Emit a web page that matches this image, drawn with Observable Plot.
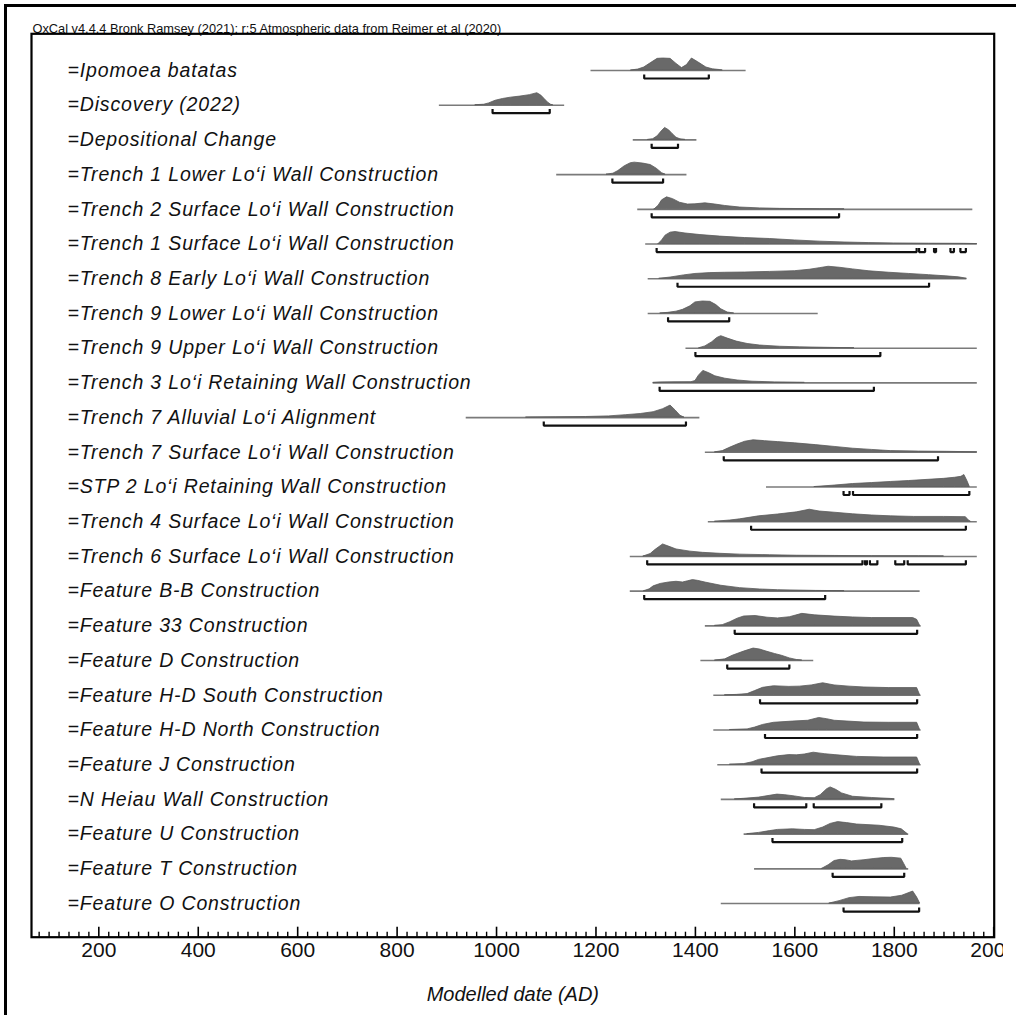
<!DOCTYPE html>
<html>
<head>
<meta charset="utf-8">
<script src="https://cdn.jsdelivr.net/npm/d3@7"></script>
<script src="https://cdn.jsdelivr.net/npm/@observablehq/plot@0.6"></script>
<style>
  html, body { margin: 0; padding: 0; background: white; overflow: hidden; }
  #wrap { position: relative; width: 1016px; height: 1015px; }
  #outer { position: absolute; left: 4px; top: 4px; width: 2000px; height: 2000px;
           border-left: 3px solid black; border-top: 3px solid black; }
  #chart { position: absolute; left: 0; top: 0; }
</style>
</head>
<body>
<div id="wrap"><div id="outer"></div><div id="chart"></div></div>
<script>
const title = "OxCal v4.4.4 Bronk Ramsey (2021); r:5 Atmospheric data from Reimer et al (2020)";
const xLabel = "Modelled date (AD)";

const labels = [
  "=Ipomoea batatas",
  "=Discovery (2022)",
  "=Depositional Change",
  "=Trench 1 Lower Lo‘i Wall Construction",
  "=Trench 2 Surface Lo‘i Wall Construction",
  "=Trench 1 Surface Lo‘i Wall Construction",
  "=Trench 8 Early Lo‘i Wall Construction",
  "=Trench 9 Lower Lo‘i Wall Construction",
  "=Trench 9 Upper Lo‘i Wall Construction",
  "=Trench 3 Lo‘i Retaining Wall Construction",
  "=Trench 7 Alluvial Lo‘i Alignment",
  "=Trench 7 Surface Lo‘i Wall Construction",
  "=STP 2 Lo‘i Retaining Wall Construction",
  "=Trench 4 Surface Lo‘i Wall Construction",
  "=Trench 6 Surface Lo‘i Wall Construction",
  "=Feature B-B Construction",
  "=Feature 33 Construction",
  "=Feature D Construction",
  "=Feature H-D South Construction",
  "=Feature H-D North Construction",
  "=Feature J Construction",
  "=N Heiau Wall Construction",
  "=Feature U Construction",
  "=Feature T Construction",
  "=Feature O Construction"
];

// full extent of each (unmodelled) distribution line, AD
const lineRanges = [
  [1190,1502],[885,1137],[1275,1403],[1121,1383],[1284,1958],
  [1300,1967],[1305,1946],[1305,1647],[1381,1967],[1315,1967],
  [939,1409],[1420,1967],[1543,1967],[1426,1967],[1269,1967],
  [1269,1852],[1420,1854],[1411,1638],[1437,1854],[1437,1854],
  [1445,1854],[1452,1801],[1498,1829],[1519,1829],[1452,1852]
];

// modelled (posterior) densities, relative to each row's peak: [year, density]
const densities = [
  [[1271,0],[1285,0.08],[1297,0.25],[1310,0.6],[1324,0.97],[1335,1],[1350,0.97],[1362,0.55],[1373,0.2],[1383,0.45],[1393,1],[1405,0.7],[1422,0.25],[1435,0.1],[1449,0.04],[1455,0]],
  [[958,0],[975,0.04],[985,0.15],[998,0.37],[1013,0.52],[1029,0.63],[1048,0.72],[1067,0.84],[1082,1],[1090,0.8],[1097,0.5],[1104,0.2],[1110,0.03],[1114,0]],
  [[1305,0],[1315,0.06],[1324,0.3],[1332,0.7],[1339,1],[1347,0.8],[1354,0.5],[1362,0.18],[1370,0.05],[1380,0]],
  [[1222,0],[1235,0.08],[1245,0.3],[1258,0.7],[1270,0.95],[1278,1],[1295,0.92],[1310,0.8],[1322,0.5],[1333,0.12],[1340,0]],
  [[1318,0],[1326,0.3],[1333,0.75],[1343,1],[1355,0.85],[1369,0.55],[1385,0.4],[1400,0.42],[1420,0.5],[1440,0.4],[1460,0.28],[1490,0.15],[1530,0.08],[1570,0.04],[1650,0.01],[1700,0]],
  [[1326,0],[1333,0.3],[1340,0.7],[1350,0.95],[1360,1],[1380,0.88],[1410,0.75],[1450,0.62],[1500,0.5],[1550,0.42],[1600,0.3],[1650,0.2],[1700,0.13],[1750,0.08],[1800,0.05],[1870,0.03],[1940,0.02],[1967,0]],
  [[1328,0],[1350,0.1],[1377,0.28],[1400,0.4],[1430,0.47],[1460,0.5],[1500,0.52],[1550,0.57],[1600,0.63],[1630,0.75],[1650,0.88],[1668,1],[1690,0.92],[1717,0.78],[1750,0.62],[1790,0.5],[1830,0.4],[1870,0.3],[1905,0.2],[1930,0.12],[1946,0]],
  [[1330,0],[1345,0.05],[1362,0.15],[1375,0.3],[1390,0.6],[1400,0.92],[1415,1],[1430,0.97],[1442,0.7],[1452,0.35],[1465,0.08],[1478,0]],
  [[1408,0],[1420,0.15],[1434,0.5],[1444,0.85],[1452,1],[1465,0.8],[1483,0.55],[1505,0.35],[1530,0.22],[1570,0.12],[1610,0.07],[1680,0.02],[1720,0]],
  [[1316,0],[1330,0.04],[1360,0.05],[1392,0.06],[1400,0.15],[1407,0.6],[1416,1],[1428,0.8],[1440,0.55],[1460,0.35],[1485,0.2],[1515,0.1],[1560,0.04],[1620,0]],
  [[1060,0],[1120,0.02],[1180,0.05],[1226,0.1],[1260,0.2],[1290,0.3],[1316,0.45],[1335,0.7],[1350,1],[1360,0.6],[1370,0.15],[1378,0]],
  [[1440,0],[1455,0.1],[1468,0.35],[1485,0.65],[1500,0.88],[1517,1],[1540,0.93],[1566,0.85],[1600,0.75],[1642,0.6],[1680,0.45],[1717,0.3],[1755,0.2],[1793,0.1],[1850,0.06],[1907,0.04],[1967,0]],
  [[1640,0],[1680,0.12],[1717,0.25],[1755,0.33],[1793,0.42],[1830,0.5],[1869,0.6],[1900,0.68],[1922,0.77],[1935,0.85],[1941,1],[1947,0.5],[1952,0]],
  [[1440,0],[1470,0.1],[1490,0.2],[1528,0.45],[1566,0.6],[1604,0.78],[1630,1],[1650,0.85],[1680,0.75],[1717,0.62],[1755,0.52],[1793,0.45],[1840,0.4],[1900,0.4],[1944,0.38],[1950,0.1],[1954,0]],
  [[1296,0],[1310,0.2],[1320,0.55],[1335,1],[1348,0.8],[1362,0.58],[1390,0.4],[1415,0.3],[1450,0.22],[1490,0.15],[1550,0.1],[1604,0.06],[1680,0.04],[1755,0.02],[1850,0.01],[1900,0]],
  [[1297,0],[1308,0.15],[1316,0.4],[1330,0.6],[1347,0.72],[1362,0.78],[1375,0.72],[1385,0.82],[1395,0.92],[1405,0.86],[1422,0.7],[1452,0.45],[1490,0.25],[1530,0.14],[1566,0.08],[1642,0.02],[1700,0]],
  [[1440,0],[1455,0.06],[1470,0.3],[1485,0.6],[1498,0.78],[1521,0.82],[1545,0.68],[1566,0.62],[1590,0.72],[1615,1],[1640,0.88],[1680,0.77],[1717,0.7],[1755,0.65],[1838,0.65],[1846,0.5],[1852,0]],
  [[1440,0],[1460,0.1],[1475,0.4],[1498,0.75],[1517,1],[1530,0.92],[1543,0.75],[1560,0.55],[1574,0.4],[1590,0.18],[1604,0.05],[1615,0]],
  [[1460,0],[1483,0.03],[1505,0.1],[1520,0.35],[1536,0.62],[1558,0.75],[1589,0.7],[1610,0.72],[1634,0.82],[1657,1],[1680,0.82],[1710,0.72],[1740,0.65],[1790,0.6],[1846,0.6],[1852,0]],
  [[1470,0],[1505,0.05],[1520,0.2],[1536,0.42],[1558,0.6],[1596,0.7],[1627,0.77],[1649,1],[1665,0.9],[1680,0.77],[1740,0.62],[1790,0.6],[1846,0.6],[1852,0]],
  [[1470,0],[1498,0.05],[1515,0.2],[1528,0.4],[1566,0.7],[1589,0.8],[1604,0.78],[1620,0.85],[1638,1],[1660,0.88],[1680,0.8],[1725,0.65],[1780,0.6],[1846,0.6],[1852,0]],
  [[1480,0],[1498,0.05],[1528,0.15],[1550,0.3],[1565,0.4],[1581,0.35],[1600,0.25],[1620,0.12],[1640,0.1],[1652,0.35],[1665,0.85],[1672,1],[1683,0.8],[1695,0.5],[1717,0.22],[1755,0.12],[1793,0.04],[1801,0]],
  [[1505,0],[1528,0.1],[1550,0.25],[1566,0.35],[1596,0.4],[1620,0.35],[1640,0.33],[1657,0.55],[1672,0.85],[1687,1],[1705,0.92],[1725,0.8],[1770,0.7],[1800,0.55],[1815,0.4],[1827,0]],
  [[1655,0],[1668,0.3],[1680,0.65],[1692,0.75],[1702,0.72],[1715,0.62],[1740,0.72],[1760,0.82],[1780,0.9],[1795,0.92],[1814,0.85],[1820,0.4],[1825,0]],
  [[1670,0],[1690,0.2],[1710,0.45],[1730,0.55],[1760,0.52],[1793,0.5],[1816,0.65],[1838,1],[1846,0.5],[1852,0]]
];

// 95.4% highest posterior density ranges (AD)
const ranges = [
  [[1297,1427]],
  [[992,1107]],
  [[1312,1365]],
  [[1233,1335]],
  [[1312,1689]],
  [[1322,1845],[1850,1862],[1880,1884],[1913,1920],[1933,1944]],
  [[1364,1870]],
  [[1345,1468]],
  [[1400,1772]],
  [[1328,1759]],
  [[1095,1381]],
  [[1457,1888]],
  [[1698,1710],[1717,1951]],
  [[1512,1944]],
  [[1303,1736],[1741,1745],[1751,1766],[1802,1820],[1827,1944]],
  [[1297,1661]],
  [[1479,1846]],
  [[1464,1589]],
  [[1530,1846]],
  [[1540,1846]],
  [[1533,1846]],
  [[1518,1623],[1638,1774]],
  [[1555,1816]],
  [[1676,1820]],
  [[1698,1850]]
];

const majorTicks = d3.range(200, 2001, 200);
const minorTicks = d3.range(80, 2001, 20).filter(v => v % 200 !== 0);

// ---- layout (pixels) ----
const W = 1003, H = 1015;
const frameL = 31, frameR = 993.7, frameT = 33.3, frameB = 936.7;
const rowTop = 70, rowStep = 34.71;
const peakPx = 12, bracketPx = 8, capPx = 3;
const yDomainTop = (frameT - rowTop) / rowStep;
const yDomainBottom = (frameB - rowTop) / rowStep;
const hU = peakPx / rowStep, bU = bracketPx / rowStep, cU = capPx / rowStep;

const areaData = densities.flatMap((pts, row) => pts.map(([year, d]) => ({row, year, d})));
const lineData = lineRanges.map(([lo, hi], row) => ({row, lo, hi}));
let segId = 0;
const bracketData = ranges.flatMap((segs, row) => segs.flatMap(([lo, hi]) => {
  const id = segId++;
  return [
    {id, x: lo, y: row + bU - cU},
    {id, x: lo, y: row + bU},
    {id, x: hi, y: row + bU},
    {id, x: hi, y: row + bU - cU}
  ];
}));

const font = "'Liberation Sans', Arial, Helvetica, sans-serif";

const chart = Plot.plot({
  width: W,
  height: H,
  marginLeft: frameL,
  marginRight: W - frameR,
  marginTop: frameT,
  marginBottom: H - frameB,
  style: {background: "none", overflow: "hidden", fontFamily: font},
  x: {domain: [64.6, 2001], label: null},
  y: {domain: [yDomainBottom, yDomainTop], axis: null},
  marks: [
    Plot.ruleY(lineData, {y: "row", x1: "lo", x2: "hi", stroke: "#7a7a7a", strokeWidth: 1.6}),
    Plot.areaY(areaData, {x: "year", y1: "row", y2: d => d.row - d.d * hU, z: "row",
      fill: "#696969", stroke: "#5a5a5a", strokeWidth: 0.8, curve: "linear"}),
    Plot.line(bracketData, {x: "x", y: "y", z: "id", stroke: "#111", strokeWidth: 2.2,
      strokeLinejoin: "miter", strokeLinecap: "square"}),
    Plot.text(labels, {y: (d, i) => i, text: d => d, frameAnchor: "left", dx: 36,
      textAnchor: "start", fontStyle: "italic", fontSize: 19.5, fill: "#111"}),
    Plot.text([title], {frameAnchor: "top-left", lineAnchor: "bottom", dy: -1, dx: 1,
      text: d => d, fontSize: 12.8, fill: "#111"}),
    Plot.axisX({ticks: minorTicks, tickSize: -5, tickFormat: () => "", strokeWidth: 1.4, label: null}),
    Plot.axisX({ticks: majorTicks, tickSize: -10, tickPadding: 15, strokeWidth: 1.6,
      fontSize: 21, label: null, tickFormat: d => String(d), fill: "#111"}),
    Plot.text([xLabel], {frameAnchor: "bottom", dy: 64, text: d => d,
      fontStyle: "italic", fontSize: 20, fill: "#111"}),
    Plot.frame({stroke: "black", strokeWidth: 2.2})
  ]
});
// slightly wider letter spacing for the row labels, as in the OxCal output
d3.select(chart).selectAll("text")
  .filter(function() { return labels.includes(this.textContent); })
  .attr("letter-spacing", "0.85px");
document.getElementById("chart").appendChild(chart);
</script>
</body>
</html>
